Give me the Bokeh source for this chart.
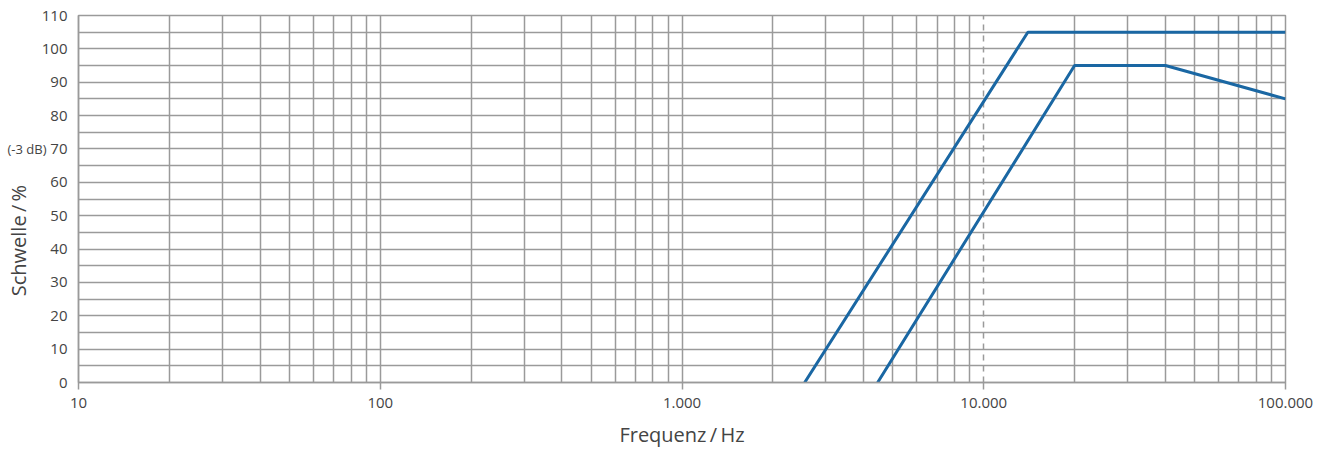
from bokeh.plotting import figure
from bokeh.models import FixedTicker, Grid, LinearAxis
from bokeh.embed import file_html
from bokeh.resources import INLINE

# data
freq_a = [2550, 14000, 100000]
thr_a = [0, 105, 105]
freq_b = [4450, 20000, 40000, 100000]
thr_b = [0, 95, 95, 85]

x_major = [10, 100, 1000, 10000, 100000]
x_labels = ["10", "100", "1.000", "10.000", "100.000"]
y_major = list(range(0, 111, 10))
y_minor = list(range(5, 110, 10))
note_tick = 70
note_text = "(-3 dB)"

FONT = "Open Sans"
GRID = "#9a9a9a"
TEXT = "#444444"
LINE = "#1a67a3"

x_minor = [m * 10 ** d for d in range(1, 5) for m in range(2, 10)]

p = figure(width=1318, height=450, x_axis_type="log",
           x_range=(10, 100000), y_range=(0, 110),
           output_backend="svg", toolbar_location=None,
           min_border_left=78, min_border_right=33,
           min_border_top=15, min_border_bottom=67)
p.outline_line_color = GRID
p.outline_line_width = 1.5
p.background_fill_color = "white"
p.border_fill_color = "white"

# axes
p.xaxis.ticker = FixedTicker(ticks=x_major, minor_ticks=x_minor)
p.xaxis.major_label_overrides = {t: l for t, l in zip(x_major, x_labels)}
p.yaxis.ticker = FixedTicker(ticks=y_major, minor_ticks=y_minor)
for ax in (p.xaxis[0], p.yaxis[0]):
    ax.axis_line_color = GRID
    ax.axis_line_width = 1.5
    ax.major_tick_line_color = GRID
    ax.major_tick_line_width = 1.5
    ax.major_tick_in = 0
    ax.minor_tick_in = 0
    ax.minor_tick_out = 0
    ax.major_label_text_font = FONT
    ax.major_label_text_font_size = "15px"
    ax.major_label_text_color = TEXT
    ax.axis_label_text_font = FONT
    ax.axis_label_text_font_size = "20px"
    ax.axis_label_text_font_style = "normal"
    ax.axis_label_text_color = TEXT
p.xaxis.major_tick_out = 7
p.xaxis.major_label_standoff = 8
p.xaxis.axis_label = "Frequenz\u2009/\u2009Hz"
p.xaxis.axis_label_standoff = 10
p.yaxis.major_tick_out = 0
p.yaxis.major_label_standoff = 11

# outer left axis: carries the (-3 dB) note and the y axis title
ax2 = LinearAxis(ticker=FixedTicker(ticks=[note_tick]),
                 major_label_overrides={note_tick: note_text},
                 axis_line_color=None, major_tick_line_color=None,
                 minor_tick_line_color=None,
                 major_tick_in=0, major_tick_out=0,
                 major_label_standoff=-8,
                 major_label_text_font=FONT, major_label_text_font_size="13px",
                 major_label_text_color=TEXT,
                 axis_label="Schwelle\u2009/\u2009%" + "\u00a0" * 16,
                 axis_label_standoff=-28,
                 axis_label_text_font=FONT, axis_label_text_font_size="20px",
                 axis_label_text_font_style="normal", axis_label_text_color=TEXT)
p.add_layout(ax2, "left")

# grids
p.xgrid.ticker = FixedTicker(ticks=[t for t in x_major if t != 10000] + x_minor)
p.xgrid.grid_line_color = GRID
p.xgrid.grid_line_width = 1.5
p.ygrid.grid_line_color = GRID
p.ygrid.grid_line_width = 1.5
p.ygrid.minor_grid_line_color = GRID
p.ygrid.minor_grid_line_width = 1.5
dash_grid = Grid(dimension=0, ticker=FixedTicker(ticks=[10000]),
                 grid_line_color=GRID, grid_line_width=1.5, grid_line_dash="6 5")
p.add_layout(dash_grid)

# curves
p.line(freq_a, thr_a, line_color=LINE, line_width=3)
p.line(freq_b, thr_b, line_color=LINE, line_width=3)

open("out.html", "w").write(file_html(p, INLINE))
